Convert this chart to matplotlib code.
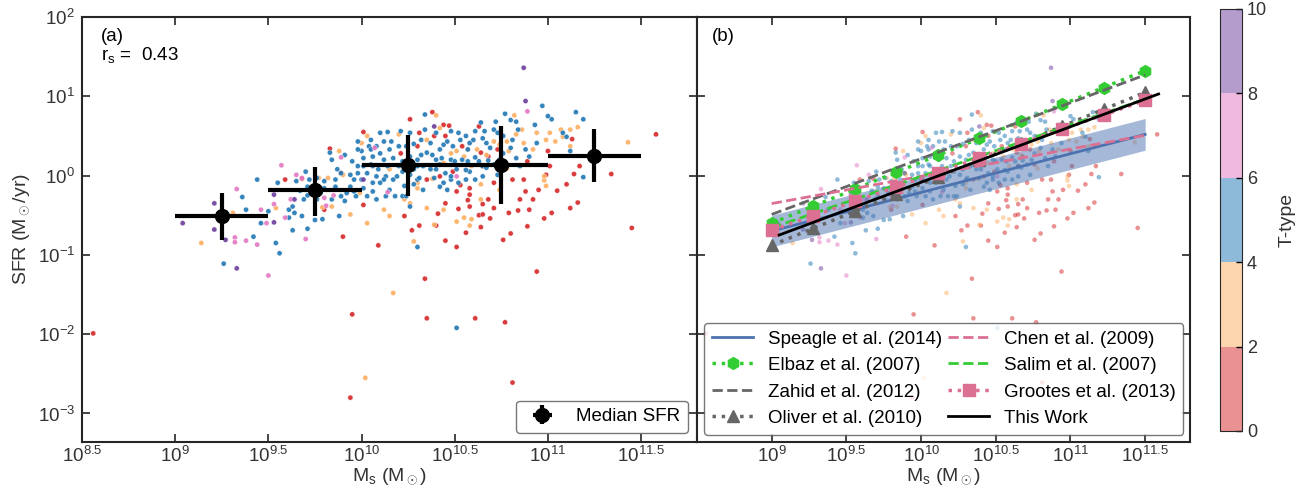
import numpy as np
import matplotlib
matplotlib.use('Agg')
import matplotlib.pyplot as plt
from matplotlib.colors import ListedColormap, BoundaryNorm
from matplotlib.ticker import NullLocator

plt.rcParams['font.family'] = ['Liberation Sans', 'DejaVu Sans']
plt.rcParams['mathtext.fontset'] = 'custom'
plt.rcParams['mathtext.rm'] = 'Liberation Sans'
plt.rcParams['mathtext.it'] = 'Liberation Sans:italic'
plt.rcParams['font.size'] = 13

# galaxies, (log M*, log SFR), grouped by T-type bin
red_pts = [(9.83,0.34),(9.59,-0.05),(9.68,-0.04),(9.80,-0.43),(9.90,-0.77),(10.09,-0.88),(9.95,-1.75),(10.34,-1.30),
           (10.35,-1.80),(10.61,-1.80),(10.77,-1.85),(10.94,-1.21),(11.45,-0.66),(11.34,0.02),(11.17,0.12),(11.14,0.02),
           (11.16,-0.34),(11.12,-0.41),(11.05,-0.19),(11.02,-0.47),(10.98,-0.54),(10.95,-0.18),(10.90,-0.43),(10.88,-0.20),
           (10.84,-0.44),(10.80,-0.73),(10.79,-0.47),(10.76,-0.81),(10.81,-0.05),(10.69,-0.54),(10.68,-0.30),(10.65,-0.36),
           (10.63,-0.50),(10.64,-0.65),(10.58,-0.39),(10.56,-0.72),(10.51,-0.90),(10.57,-0.31),(10.52,-0.42),(10.53,-0.12),
           (10.45,-0.82),(10.45,-0.35),(10.40,-0.63),(10.41,-0.48),(10.35,-0.05),(10.31,-0.63),(10.27,-0.69),(10.23,-0.51),
           (10.30,0.37),(10.26,0.71),(10.38,0.80),(10.39,0.50),(10.45,0.50),(10.47,0.63),(10.54,0.37),(10.64,0.29),
           (10.68,0.24),(10.63,0.62),(10.73,0.33),(10.89,0.18),(11.00,0.31),(11.13,0.46),(10.01,0.55),(10.01,-0.37),
           (9.89,0.03),(10.21,0.28),(10.85,-0.30),(10.65,-0.49),(10.92,-0.30),(10.99,0.01),(10.71,-0.09),(10.58,-0.16),
           (10.49,0.05),(8.56,-1.99),(9.94,-2.80),(10.81,-2.61),(11.58,0.52),
           (10.42,-0.01),(10.51,-0.20),(10.58,-0.24),(10.71,-0.41),(10.87,-0.05),(11.10,-0.11),(10.89,-0.64),
           (11.01,0.12),(10.31,0.54),(10.44,0.64),(10.65,0.12),(10.76,0.14)]
orange_pts = [(9.14,-0.85),(9.94,-0.49),(10.03,-0.60),(10.15,-0.51),(10.17,-1.48),(10.28,-0.83),(10.35,-0.41),(10.38,-0.04),
              (10.39,-0.62),(10.51,-0.58),(10.55,-0.53),(10.59,-0.55),(10.58,-0.63),(10.64,-0.11),(10.62,0.33),(10.71,0.43),
              (10.78,0.43),(10.83,0.52),(10.86,0.58),(10.82,0.76),(10.94,0.54),(10.99,0.45),(11.04,0.43),(11.07,0.58),
              (11.12,0.58),(11.16,0.61),(11.12,0.37),(11.43,0.42),(10.98,-0.06),(10.99,-0.13),(10.98,-0.01),(10.78,0.09),
              (10.79,0.31),(10.67,0.26),(10.57,0.33),(10.51,0.31),(10.42,0.60),(10.40,0.76),(10.35,0.45),(10.20,0.52),
              (10.15,0.08),(10.03,0.50),(10.00,0.41),(9.90,0.01),(9.88,0.31),(9.82,-0.03),(9.79,-0.40),(9.84,-0.39),
              (9.77,-0.03),(9.54,-0.41),(9.31,-0.47),(10.30,-0.16),(10.30,-0.09),(10.26,-0.35),(10.02,-2.55),
              (10.44,0.16),(10.48,0.28),(10.55,0.24),(10.59,0.12),(10.74,0.39),(10.87,0.41),(10.92,0.33),(11.01,0.54),
              (11.08,0.49),(9.99,-0.22),(10.12,-0.43),(10.23,-0.30),(10.44,-0.43),(10.64,-0.30),(10.74,-0.18)]
blue_pts = [(9.26,-1.11),(9.56,-0.98),(9.54,-0.85),(9.42,-0.77),(9.36,-0.27),(9.44,-0.05),(9.46,-0.60),(9.38,-0.43),
            (9.50,-0.45),(9.63,-0.69),(9.71,-0.67),(9.75,-0.56),(9.79,-0.55),(9.88,-0.51),(9.64,-0.47),(9.61,-0.43),
            (9.65,-0.07),(9.70,0.05),(9.72,-0.05),(9.67,-0.19),(9.71,-0.25),(9.76,-0.30),(9.55,-0.09),(9.91,-0.32),
            (9.97,-0.26),(9.96,-0.20),(9.92,-0.22),(9.84,0.20),(9.87,0.08),(9.83,0.29),(9.94,0.01),(9.96,-0.05),
            (9.98,0.12),(10.00,0.31),(9.98,0.43),(10.04,0.37),(10.06,0.24),(10.08,0.37),(10.09,0.08),(10.12,0.20),
            (10.14,0.55),(10.15,0.33),(10.10,-0.09),(10.13,-0.01),(10.06,-0.20),(10.01,-0.16),(10.06,-0.09),(10.08,-0.30),
            (10.13,-0.26),(10.18,-0.26),(10.22,-0.26),(10.24,-0.26),(10.17,-0.05),(10.20,0.12),(10.22,0.18),(10.26,0.01),
            (10.28,0.08),(10.26,0.54),(10.28,0.40),(10.32,0.45),(10.34,0.77),(10.32,0.26),(10.35,0.29),(10.38,0.26),
            (10.40,0.20),(10.43,0.22),(10.48,0.20),(10.50,0.18),(10.54,0.20),(10.57,0.18),(10.42,0.14),(10.45,0.03),
            (10.40,0.08),(10.37,0.08),(10.30,0.12),(10.44,0.39),(10.48,0.56),(10.52,0.54),(10.56,0.50),(10.58,0.41),
            (10.61,0.56),(10.64,0.67),(10.65,0.47),(10.67,0.41),(10.71,0.58),(10.72,0.68),(10.77,0.78),(10.80,0.70),
            (10.83,0.68),(10.84,0.58),(10.76,0.50),(10.80,0.35),(10.83,0.22),(10.88,0.33),(10.93,0.64),(10.97,0.88),
            (11.00,0.75),(11.08,0.54),(11.15,0.80),(11.12,0.31),(11.19,-0.02),(10.68,0.19),(10.65,0.12),(10.58,0.05),
            (10.56,-0.05),(10.51,0.08),(10.48,-0.05),(10.44,-0.09),(10.46,-0.18),(10.30,-0.05),(10.28,-0.11),(10.33,-0.18),
            (10.31,-0.03),(10.26,-0.39),(10.30,-0.90),(10.51,-1.92),(10.65,-0.01),(10.71,0.14),(10.74,0.20),(10.61,0.23),
            (10.73,0.01),(9.89,0.03),(9.86,-0.05),(9.80,-0.07),(10.03,0.03),(10.05,0.14),(10.17,0.22),(10.20,0.37),
            (10.16,0.43),(10.12,0.43),(10.21,0.56),
            (9.91,0.26),(9.95,0.18),(9.98,0.33),(10.01,0.22),(10.05,0.33),(10.10,0.28),(10.14,0.12),(10.19,-0.01),
            (10.23,-0.13),(10.15,-0.18),(10.03,-0.26),(10.00,-0.05),(9.94,-0.14),(9.89,-0.26),(9.84,-0.30),(9.78,-0.22),
            (9.75,-0.16),(9.69,-0.30),(9.63,-0.39),(9.61,-0.53),(9.68,-0.51),(10.34,0.58),(10.37,0.41),(10.40,0.54),
            (10.42,0.33),(10.46,0.43),(10.49,0.37),(10.53,0.45),(10.57,0.33),(10.60,0.45),(10.63,0.18),(10.66,0.56),
            (10.69,0.35),(10.73,0.54),(10.76,0.28),(10.81,0.45),(10.85,0.12),(10.90,0.24),(10.94,0.41),(11.02,0.71),
            (11.10,0.49),(11.19,0.71),(10.33,0.12),(10.39,-0.03),(10.42,-0.14),(10.48,-0.01),(10.52,-0.09),(10.56,0.07),
            (10.61,-0.05),(10.67,0.10),(10.26,0.24),(10.24,0.37),(10.30,0.20),(10.22,0.05),(10.12,-0.05),(10.08,-0.01),
            (10.06,0.12),(10.01,0.12),(9.98,0.03),(10.05,0.45),(10.10,0.54),(9.86,-0.14),(9.80,-0.16),(9.76,-0.03),
            (9.71,-0.14)]
pink_pts = [(9.33,-0.17),(9.57,0.13),(9.32,-0.78),(9.32,-0.84),(9.38,-0.82),(9.44,-0.87),(9.50,-1.26),(9.70,-0.80),
            (9.46,-0.43),(9.53,-0.36),(9.59,-0.53),(9.62,-0.30),(9.65,0.01),(9.68,-0.03),(9.85,-0.25),(9.89,0.23),
            (9.80,-0.28),(10.14,-0.21),(10.51,-0.01),(10.89,0.81),(10.07,0.35),(9.81,-0.38),(9.49,-0.60)]
purple_pts = [(9.04,-0.60),(9.21,-0.35),(9.21,-0.68),(9.27,-0.81),(9.33,-1.17),(9.53,-0.24),(9.53,-0.59),(9.64,-0.30),
              (10.01,-0.05),(10.39,0.62),(10.88,0.94),(10.87,1.36)]
group_ttype = [1, 3, 5, 7, 9]

# median SFR in mass bins
bin_lo = [9.0, 9.5, 10.0, 10.5, 11.0]
bin_mid = [9.25, 9.75, 10.25, 10.75, 11.25]
bin_hi = [9.5, 10.0, 10.5, 11.0, 11.5]
med_sfr = [0.313, 0.653, 1.38, 1.38, 1.79]
sfr_lo = [0.156, 0.313, 0.56, 0.444, 0.82]
sfr_hi = [0.605, 1.29, 3.28, 4.26, 3.87]

# literature relations (log M grid, SFR)
rel_logm = [9.0, 9.278, 9.556, 9.833, 10.111, 10.389, 10.667, 10.944, 11.222, 11.5]
speagle = [0.200, 0.273, 0.372, 0.509, 0.695, 0.950, 1.30, 1.77, 2.42, 3.31]
speagle_lo = [0.126, 0.172, 0.235, 0.321, 0.439, 0.600, 0.819, 1.12, 1.53, 2.09]
speagle_hi = [0.316, 0.433, 0.590, 0.807, 1.10, 1.51, 2.06, 2.81, 3.84, 5.25]
elbaz = [0.251, 0.411, 0.673, 1.10, 1.80, 2.94, 4.82, 7.89, 12.9, 21.1]
zahid = [0.324, 0.508, 0.796, 1.25, 1.96, 3.08, 4.82, 7.57, 11.9, 18.6]
oliver = [0.132, 0.216, 0.354, 0.580, 0.950, 1.556, 2.55, 4.18, 6.85, 11.2]
chen = [0.444, 0.553, 0.689, 0.859, 1.07, 1.33, 1.66, 2.07, 2.58, 3.22]
salim = [0.219, 0.332, 0.502, 0.762, 1.153, 1.75, 2.65, 4.02, 6.09, 9.23]
grootes = [0.205, 0.311, 0.473, 0.719, 1.094, 1.66, 2.53, 3.84, 5.83, 8.87]
this_logm = [9.05, 11.59]
this_work = [0.178, 10.7]

groups = [red_pts, orange_pts, blue_pts, pink_pts, purple_pts]
logm = np.concatenate([[p[0] for p in g] for g in groups])
logsfr = np.concatenate([[p[1] for p in g] for g in groups])
ttype = np.concatenate([[t] * len(g) for t, g in zip(group_ttype, groups)])
mass = 10 ** logm
sfr = 10 ** logsfr

cmap = ListedColormap(['#d62728', '#fdae61', '#1f77b4', '#e377c2', '#6a3d9a'])
norm = BoundaryNorm([0, 2, 4, 6, 8, 10], cmap.N)

fig = plt.figure(figsize=(12.96, 4.93), dpi=100)
ax1 = fig.add_axes([0.0633, 0.1034, 0.4745, 0.8621])
ax2 = fig.add_axes([0.5378, 0.1034, 0.3804, 0.8621])
cax = fig.add_axes([0.9414, 0.1258, 0.017, 0.856])

spine_c = '#262626'

# panel a
ax1.scatter(mass, sfr, c=ttype, cmap=cmap, norm=norm, s=14, linewidths=0.3, edgecolors='white', alpha=0.9)
m = np.array(bin_mid)
xerr = [10 ** m - 10 ** np.array(bin_lo), 10 ** np.array(bin_hi) - 10 ** m]
yerr = [np.array(med_sfr) - np.array(sfr_lo), np.array(sfr_hi) - np.array(med_sfr)]
ax1.errorbar(10 ** m, med_sfr, xerr=xerr, yerr=yerr, fmt='o', color='black', ms=10, elinewidth=3, capsize=0,
             label='Median SFR', zorder=5)
ax1.text(0.031, 0.975, '(a)\nr$_{\\rm s}$ =  0.43', transform=ax1.transAxes, va='top', ha='left', fontsize=13.5,
         linespacing=1.0)
leg1 = ax1.legend(loc='lower right', fontsize=13.5, frameon=True, fancybox=True, borderaxespad=0.5)
leg1.get_frame().set_edgecolor('#555555')

# panel b
sc = ax2.scatter(mass, sfr, c=ttype, cmap=cmap, norm=norm, s=11, linewidths=0, alpha=0.5)
rm = 10 ** np.array(rel_logm)
ax2.fill_between(rm, speagle_lo, speagle_hi, color='#4c72b0', alpha=0.5, lw=0, zorder=2)
ax2.plot(rm, speagle, color='#4c72b0', lw=2, label='Speagle et al. (2014)', zorder=3)
ax2.plot(rm, elbaz, color='#33cc33', lw=2.5, ls=':', marker='h', ms=8.5, label='Elbaz et al. (2007)', zorder=3)
ax2.plot(rm, zahid, color='#666666', lw=2, ls='--', label='Zahid et al. (2012)', zorder=3)
ax2.plot(rm, oliver, color='#666666', lw=2.5, ls=':', marker='^', ms=8, label='Oliver et al. (2010)', zorder=3)
ax2.plot(rm, chen, color='#db7093', lw=2, ls='--', label='Chen et al. (2009)', zorder=3)
ax2.plot(rm, salim, color='#33cc33', lw=2, ls='--', label='Salim et al. (2007)', zorder=3)
ax2.plot(rm, grootes, color='#db7093', lw=2.5, ls=':', marker='s', ms=8, label='Grootes et al. (2013)', zorder=3)
ax2.plot(10 ** np.array(this_logm), this_work, color='black', lw=2, label='This Work', zorder=4)
ax2.text(0.031, 0.975, '(b)', transform=ax2.transAxes, va='top', ha='left', fontsize=13.5)
leg2 = ax2.legend(loc='lower left', ncol=2, fontsize=13.5, numpoints=1, frameon=True, fancybox=True,
                  borderaxespad=0.4, columnspacing=0.3, handlelength=2.2, labelspacing=0.5)
leg2.get_frame().set_edgecolor('#555555')

for ax in (ax1, ax2):
    ax.set_xscale('log')
    ax.set_yscale('log')
    ax.set_xlim(10 ** 8.5, 10 ** 11.8)
    ax.set_ylim(10 ** -3.36, 100)
    ax.xaxis.set_minor_locator(NullLocator())
    ax.yaxis.set_minor_locator(NullLocator())
    ax.set_yticks([1e-3, 1e-2, 1e-1, 1, 10, 100])
    ax.tick_params(direction='in', top=True, right=True, length=6, width=1.2, color=spine_c,
                   labelsize=13.5, pad=5, labelcolor='#333333')
    ax.tick_params(axis='x', pad=3)
    for s in ax.spines.values():
        s.set_linewidth(1.5)
        s.set_color(spine_c)
    ax.set_xlabel('M$_{\\rm s}$ (M$_\\odot$)', fontsize=14, color='#333333', labelpad=0)

xt1 = [8.5, 9, 9.5, 10, 10.5, 11, 11.5]
ax1.set_xticks([10 ** v for v in xt1])
ax1.set_xticklabels(['$10^{%g}$' % v for v in xt1])
xt2 = [9, 9.5, 10, 10.5, 11, 11.5]
ax2.set_xticks([10 ** v for v in xt2])
ax2.set_xticklabels(['$10^{%g}$' % v for v in xt2])
ax1.set_yticklabels(['$10^{-3}$', '$10^{-2}$', '$10^{-1}$', '$10^{0}$', '$10^{1}$', '$10^{2}$'])
ax2.set_yticklabels([])
ax1.set_ylabel('SFR (M$_\\odot$/yr)', fontsize=14, color='#333333', labelpad=4)

cb = fig.colorbar(sc, cax=cax, ticks=[0, 2, 4, 6, 8, 10])
cb.outline.set_edgecolor(spine_c)
cb.ax.tick_params(direction='in', length=4, width=1, labelsize=13, labelcolor='#333333')
cb.set_label('T-type', fontsize=14, labelpad=8, color='#333333')

fig.savefig('out.png', dpi=100)
